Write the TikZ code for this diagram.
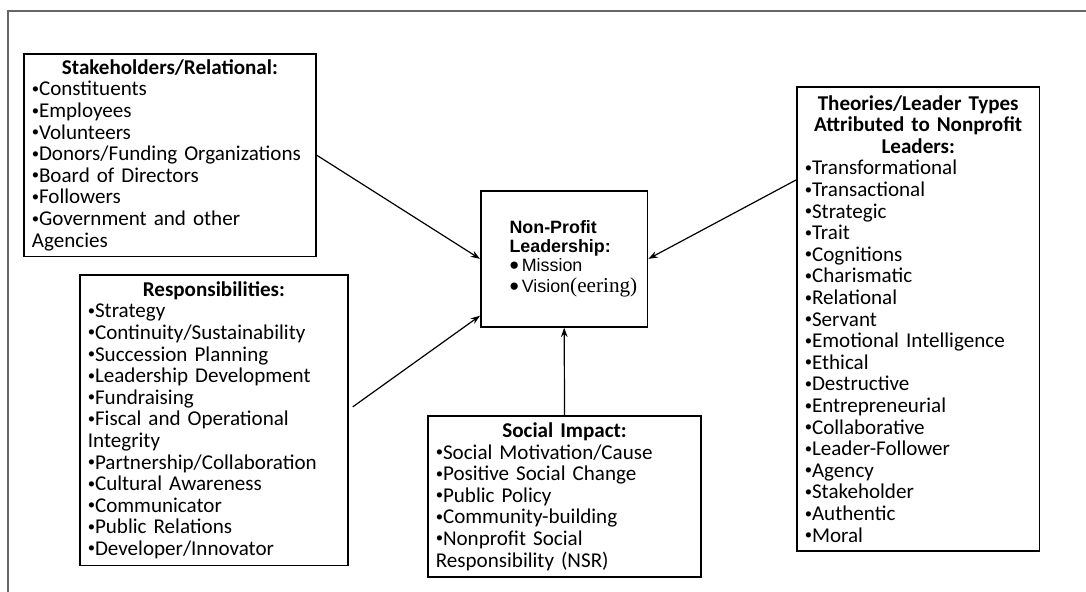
\documentclass[tikz,border=0pt]{standalone}
\usepackage{fontspec}
\setmainfont{Carlito}
\newfontfamily\arialfont{Liberation Sans}
\newfontfamily\timesfont{Liberation Serif}
\usetikzlibrary{arrows.meta,positioning}
\newcommand{\bul}{\makebox[0.34em][l]{\raisebox{1.9pt}{\fontsize{11}{11}\selectfont•}}}
\newcommand{\bigbul}{\smash{\raisebox{-2.2pt}{\fontsize{20}{14}\selectfont•}}\,}

\begin{document}
\begin{tikzpicture}[x=0.75pt,y=-0.75pt,
  box/.style={draw, line width=1.3pt, anchor=north west, inner xsep=6pt, inner ysep=4pt,
    font=\fontsize{15.8}{16.2}\selectfont},
  link/.style={-{Stealth[length=7pt,width=5pt]}, line width=0.9pt}]
\useasboundingbox (0,0) rectangle (1086,592);
\draw[gray!80!black, line width=0.8pt] (8,592) -- (8,11) -- (1086,11);

\node[box, text width=207pt, minimum height=152pt] (stake) at (23,53) {%
  {\centering\bfseries Stakeholders/Relational:\par}\raggedright
  \bul Constituents\par \bul Employees\par \bul Volunteers\par \bul Donors/Funding Organizations\par
  \bul Board of Directors\par \bul Followers\par \bul Government and other\newline Agencies\par};

\node[box, text width=189pt, minimum height=218pt] (resp) at (79,274) {%
  {\centering\bfseries Responsibilities:\par}\raggedright
  \bul Strategy\par \bul Continuity/Sustainability\par \bul Succession Planning\par
  \bul Leadership Development\par \bul Fundraising\par \bul Fiscal and Operational\newline Integrity\par
  \bul Partnership/Collaboration\par \bul Cultural Awareness\par \bul Communicator\par
  \bul Public Relations\par \bul Developer/Innovator\par};

\node[box, text width=193pt, minimum height=121pt] (social) at (427,415) {%
  {\centering\bfseries Social Impact:\par}\raggedright
  \bul Social Motivation/Cause\par \bul Positive Social Change\par \bul Public Policy\par
  \bul Community-building\par \bul Nonprofit Social\newline Responsibility (NSR)\par};

\node[box, text width=170pt, minimum height=348pt] (theo) at (796,86) {%
  {\centering\bfseries Theories/Leader Types\\ Attributed to Nonprofit\\ Leaders:\par}\raggedright
  \bul Transformational\par \bul Transactional\par \bul Strategic\par \bul Trait\par \bul Cognitions\par
  \bul Charismatic\par \bul Relational\par \bul Servant\par \bul Emotional Intelligence\par \bul Ethical\par
  \bul Destructive\par \bul Entrepreneurial\par \bul Collaborative\par \bul Leader-Follower\par
  \bul Agency\par \bul Stakeholder\par \bul Authentic\par \bul Moral\par};

\node[draw, line width=1.3pt, anchor=north west, minimum width=125pt, minimum height=102pt,
  inner xsep=0pt, text width=108pt] (lead) at (480,190) {%
  \arialfont\fontsize{13.4}{14.2}\selectfont\raggedright\leftskip=13pt
  \textbf{Non-Profit}\par \textbf{Leadership:}\par \bigbul Mission\par\vspace{1.5pt}
  \bigbul Vision{\timesfont\fontsize{15.9}{14.2}\selectfont(eering)}\par\vspace{10pt}};

\draw[link] (stake.east) -- (lead.west);
\draw[link] ([xshift=3pt,yshift=10pt]resp.east) -- ([yshift=9pt]lead.south west);
\draw[link] ([yshift=-70.5pt]theo.north west) -- (lead.east);
\draw[link] (social.north) -- (lead.south);
\end{tikzpicture}
\end{document}
